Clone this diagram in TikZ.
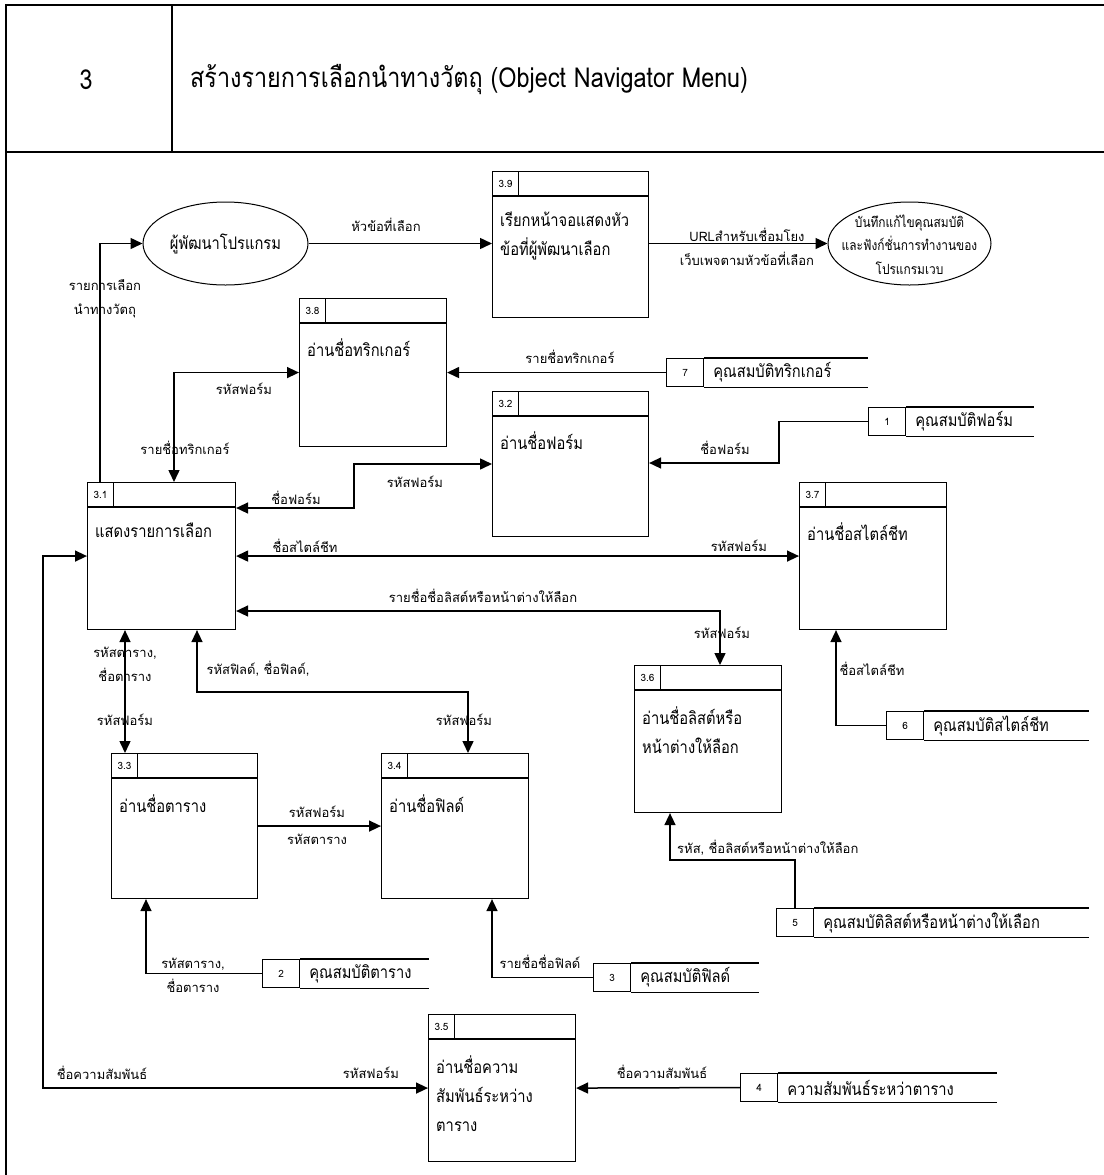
\documentclass[tikz,border=0pt]{standalone}
\usepackage{fontspec}
\setmainfont[Script=Thai]{Loma}
\newfontfamily\narrowthai[Script=Thai,FakeStretch=0.85]{Loma}
\usetikzlibrary{arrows.meta,shapes.geometric}

\newcommand\titlefont{\narrowthai\fontsize{27.5bp}{30bp}\selectfont}
\newcommand\pfont{\narrowthai\fontsize{17.3bp}{29bp}\selectfont}
\newcommand\lblfont{\fontsize{13bp}{24bp}\selectfont}
\newcommand\idfont{\fontsize{10bp}{12bp}\selectfont}
\newcommand\webfont{\narrowthai\fontsize{14bp}{23.5bp}\selectfont}

\tikzset{
  frameline/.style={line width=1.2bp},
  pbox/.style={draw, line width=1.1bp, anchor=north west, inner sep=0pt},
  pline/.style={line width=1.1bp},
  pid/.style={draw, line width=1.1bp, anchor=north west, inner sep=0pt,
    minimum width=26bp, minimum height=25bp, font=\idfont},
  ptext/.style={anchor=north west, align=left, inner sep=0pt, font=\pfont},
  sid/.style={draw, line width=1.1bp, anchor=north west, inner sep=0pt,
    minimum width=37bp, minimum height=28bp, font=\idfont},
  sline/.style={line width=1.1bp},
  sname/.style={anchor=west, inner sep=0pt, font=\pfont},
  ext/.style={draw, ellipse, line width=1bp, inner sep=0pt,
    minimum width=165bp, minimum height=83bp},
  exttext/.style={inner sep=0pt, align=center},
  lbl/.style={inner sep=0pt, align=center, font=\lblfont},
  flow/.style={line width=1.5bp, -{Triangle[length=12bp,width=11bp]}},
  flowboth/.style={line width=1.5bp,
    {Triangle[length=12bp,width=11bp]}-{Triangle[length=12bp,width=11bp]}},
}

% process box: name, left, top, width, height, id, text
\newcommand\proc[7]{%
  \node[pbox, minimum width=#4bp, minimum height=#5bp] (#1) at (#2,#3) {};
  \draw[pline] ([yshift=-25bp]#1.north west) -- ([yshift=-25bp]#1.north east);
  \node[pid] (#1-id) at (#1.north west) {#6};
  \node[ptext] (#1-txt) at ([xshift=8bp,yshift=-41bp]#1.north west) {#7};
}

% data store: name, left, top, right end, id, text
\newcommand\store[6]{%
  \node[sid] (#1) at (#2,#3) {#5};
  \draw[sline] (#1.north east) -- (#4,#3);
  \draw[sline] (#1.south east) -- (#1.south east -| #4,#3);
  \node[sname] (#1-name) at ([xshift=9bp]#1.east) {#6};
}

\begin{document}
\begin{tikzpicture}[x=1bp,y=-1bp]
\useasboundingbox (0,0) rectangle (1104,1175);

% page frame and heading row
\draw[frameline] (6,1175) -- (6,5) -- (1104,5);
\draw[frameline] (6,152) -- (1104,152);
\draw[frameline] (172,5) -- (172,152);
\node[font=\titlefont, inner sep=0pt] (secno) at (86,80) {3};
\node[font=\titlefont, inner sep=0pt, anchor=west] (sectitle) at (190,80)
  {สร้างรายการเลือกนำทางวัตถุ (Object Navigator Menu)};

% external entities
\node[ext] (dev) at (225.5,243.5) {};
\node[exttext, font=\pfont] (dev-txt) at (dev.center) {ผู้พัฒนาโปรแกรม};
\node[ext, minimum width=163bp] (web) at (909.5,243.5) {};
\node[exttext, font=\webfont] (web-txt) at ([yshift=-1bp]web.center)
  {บันทึกแก้ไขคุณสมบัติ\\และฟังก์ชั่นการทำงานของ\\โปรแกรมเวบ};

% processes
\proc{p39}{492}{171}{156}{146}{3.9}{เรียกหน้าจอแสดงหัว\\ข้อที่ผู้พัฒนาเลือก}
\proc{p38}{299}{298}{147}{148}{3.8}{อ่านชื่อทริกเกอร์}
\proc{p32}{492}{391}{156}{145}{3.2}{อ่านชื่อฟอร์ม}
\proc{p31}{87}{482}{148}{147}{3.1}{แสดงรายการเลือก}
\proc{p37}{799}{482}{147}{147}{3.7}{อ่านชื่อสไตล์ชีท}
\proc{p36}{634}{665}{147}{147}{3.6}{อ่านชื่อลิสต์หรือ\\หน้าต่างให้ลือก}
\proc{p33}{111}{753}{146}{145}{3.3}{อ่านชื่อตาราง}
\proc{p34}{381}{753}{147}{145}{3.4}{อ่านชื่อฟิลด์}
\proc{p35}{428}{1014}{147}{147}{3.5}{อ่านชื่อความ\\สัมพันธ์ระหว่าง\\ตาราง}

% data stores
\store{s7}{666}{358}{868}{7}{คุณสมบัติทริกเกอร์}
\store{s1}{868}{407}{1034}{1}{คุณสมบัติฟอร์ม}
\store{s6}{886}{711}{1089}{6}{คุณสมบัติสไตล์ชีท}
\store{s5}{776}{908}{1089}{5}{คุณสมบัติลิสต์หรือหน้าต่างให้เลือก}
\store{s2}{262}{959}{429}{2}{คุณสมบัติตาราง}
\store{s3}{593}{963}{759}{3}{คุณสมบัติฟิลด์}
\store{s4}{740}{1073}{997}{4}{ความสัมพันธ์ระหว่าตาราง}

% data flows
\draw[flow] ([xshift=13bp]p31.north west) |- (dev.west);
\node[lbl] (l1) at (105,299) {รายการเลือก\\นำทางวัตถุ};

\draw[flow] (dev.east) -- (dev.east -| p39.west);
\node[lbl] (l2) at (386,225) {หัวข้อที่เลือก};

\draw[flow] (p39.east |- web.west) -- (web.west);
\node[lbl] (l3) at (747,247) {URLสำหรับเชื่อมโยง\\เว็บเพจตามหัวข้อที่เลือก};

\draw[flowboth] (p38.west) -| ([xshift=87bp]p31.north west);
\node[lbl] (l4) at (244,389) {รหัสฟอร์ม};
\node[lbl] (l5) at (185,448) {รายชื่อทริกเกอร์};

\draw[flow] (s7.west) -- (p38.east |- s7.west);
\node[lbl] (l6) at (570,357) {รายชื่อทริกเกอร์};

\draw[flowboth] ([yshift=-26bp]p31.north east) -- ++(118,0)
  |- ([yshift=-73bp]p32.north west);
\node[lbl] (l7) at (296,498) {ชื่อฟอร์ม};
\node[lbl] (l8) at (415,482) {รหัสฟอร์ม};

\draw[flow] (s1.west) -- ++(-89,0) |- ([yshift=-72bp]p32.north east);
\node[lbl] (l9) at (725,448) {ชื่อฟอร์ม};

\draw[flowboth] (p31.east) -- (p37.west);
\node[lbl] (l10) at (305,546) {ชื่อสไตล์ชีท};
\node[lbl] (l11) at (739,546) {รหัสฟอร์ม};

\draw[flow] (s6.west) -| ([xshift=37bp]p37.south west);
\node[lbl] (l12) at (872,669) {ชื่อสไตล์ชีท};

\draw[flowboth] ([yshift=-129bp]p31.north east) -| ([xshift=86bp]p36.north west);
\node[lbl] (l13) at (483,596) {รายชื่อชื่อลิสต์หรือหน้าต่างให้ลือก};
\node[lbl] (l14) at (722,633) {รหัสฟอร์ม};

\draw[flow] (s5.north) -- ++(0,-48) -| ([xshift=36bp]p36.south west);
\node[lbl, anchor=west] (l15) at (677,848) {รหัส, ชื่อลิสต์หรือหน้าต่างให้ลือก};

\draw[flowboth] ([xshift=38bp]p31.south west) -- ([xshift=38bp]p31.south west |- p33.north);
\node[lbl] (l16) at (125,664.5) {รหัสตาราง,\\ชื่อตาราง};
\node[lbl] (l17) at (125,720) {รหัสฟอร์ม};

\draw[flowboth] ([xshift=110bp]p31.south west) -- ++(0,62) -| ([xshift=87bp]p34.north west);
\node[lbl] (l18) at (258,669) {รหัสฟิลด์, ชื่อฟิลด์,};
\node[lbl] (l19) at (464,720) {รหัสฟอร์ม};

\draw[flow] (p33.east) -- (p34.west);
\node[lbl] (l20) at (317,812) {รหัสฟอร์ม};
\node[lbl] (l21) at (317,839) {รหัสตาราง};

\draw[flow] (s2.west) -| ([xshift=35bp]p33.south west);
\node[lbl] (l22) at (193,975) {รหัสตาราง,\\ชื่อตาราง};

\draw[flow] (s3.west) -| ([xshift=111bp]p34.south west);
\node[lbl] (l23) at (540,962) {รายชื่อชื่อฟิลด์};

\draw[flowboth] (p31.west) -- ++(-44,0) |- (p35.west);
\node[lbl] (l24) at (102,1073) {ชื่อความสัมพันธ์};
\node[lbl] (l25) at (371,1073) {รหัสฟอร์ม};

\draw[flow] (s4.west) -- (p35.east);
\node[lbl] (l26) at (662,1072) {ชื่อความสัมพันธ์};
\end{tikzpicture}
\end{document}
